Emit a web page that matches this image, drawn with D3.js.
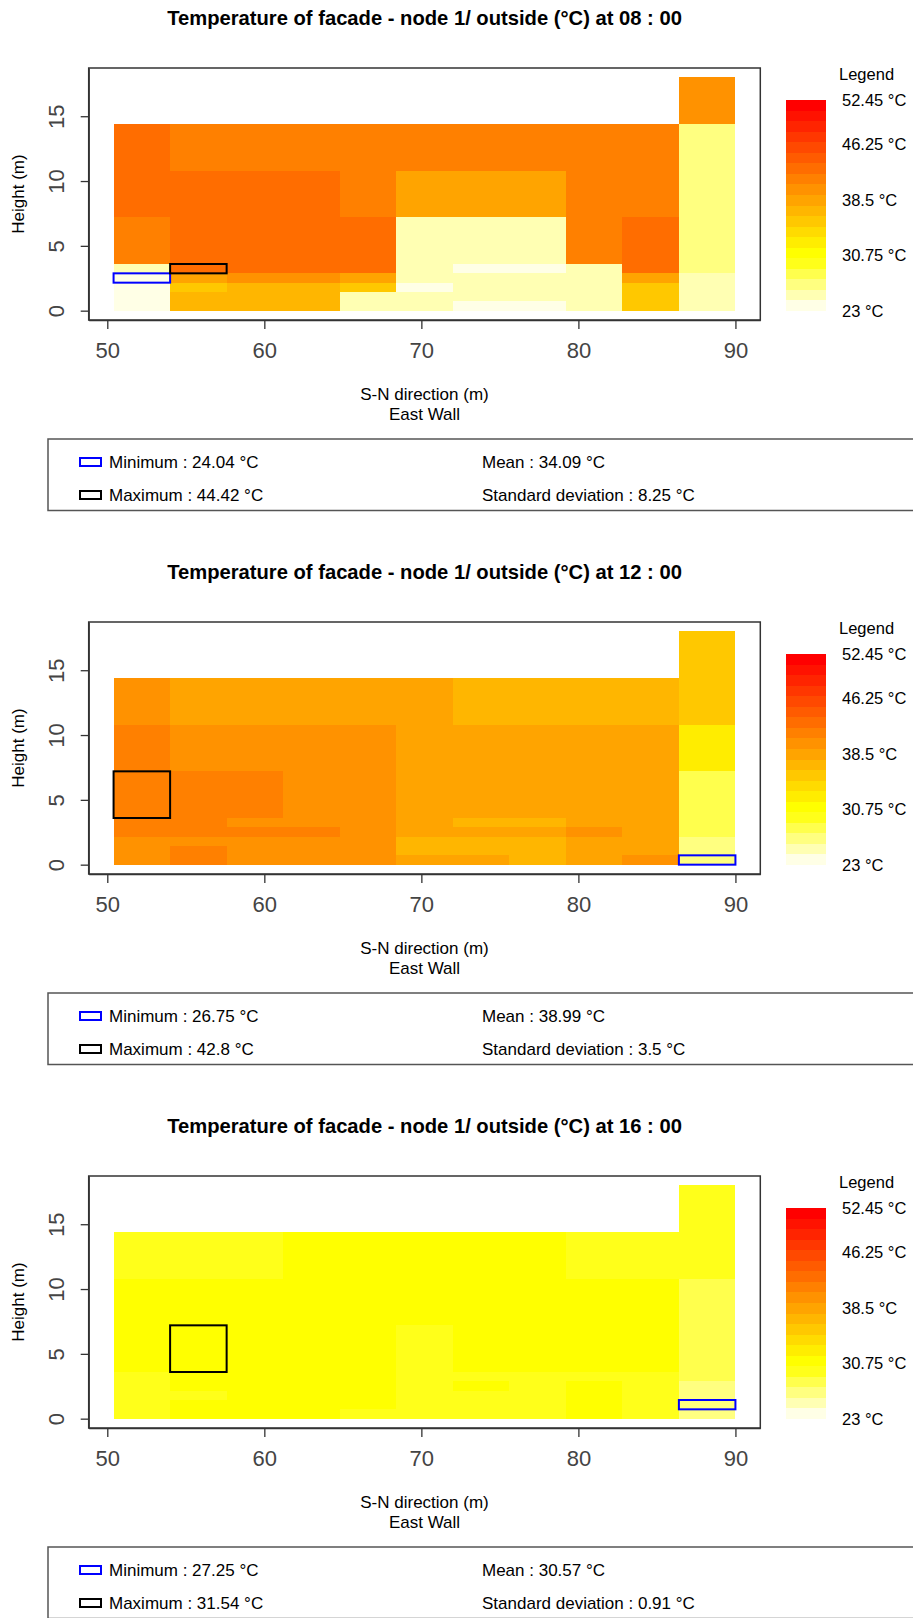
<!DOCTYPE html>
<html>
<head>
<meta charset="utf-8">
<script src="https://cdn.jsdelivr.net/npm/d3@7"></script>
<style>
  body { margin: 0; background: #fff; }
  svg { display: block; font-family: "Liberation Sans", Arial, sans-serif; }
</style>
</head>
<body>
<svg id="chart" width="913" height="1618"></svg>
<script>
// facade grid: cell edges along the wall and up the wall (m)
var xEdges = [50.4, 54, 57.6, 61.2, 64.8, 68.4, 72, 75.6, 79.2, 82.8, 86.4, 90];
var yEdges = [0, 0.72, 1.44, 2.16, 2.88, 3.6, 7.2, 10.8, 14.4, 18];

var xTicks = [50, 60, 70, 80, 90];
var yTicks = [0, 5, 10, 15];
var legendLabels = [23, 30.75, 38.5, 46.25, 52.45];
var colorRange = [23, 54];

var hours = ["08 : 00", "12 : 00", "16 : 00"];
var meanTemps = [34.09, 38.99, 30.57];
var sdTemps = [8.25, 3.5, 0.91];

// temperatures (°C): one row per height band from the ground up,
// one value per column between xEdges (null = no facade there)
var temps08 = [
  [24.3, 37.6, 37.8, 37.5, 25.4, 25.2, 24.4, 24.3, 25.3, 36.1, 25.5],
  [24.2, 37.7, 37.6, 37.4, 25.3, 25.1, 25.0, 25.2, 25.4, 36.3, 25.6],
  [24.4, 36.4, 37.3, 37.2, 36.5, 24.4, 25.3, 25.1, 25.2, 36.2, 25.7],
  [24.04, 39.1, 40.3, 40.5, 39.2, 25.2, 25.4, 25.3, 25.1, 39.0, 25.8],
  [25.6, 44.42, 44.1, 43.8, 43.6, 25.0, 24.4, 24.4, 25.5, 43.7, 27.0],
  [42.5, 44.2, 44.0, 43.7, 43.5, 25.3, 25.1, 25.2, 42.3, 43.9, 27.2],
  [43.6, 44.0, 43.8, 43.5, 42.8, 39.4, 39.3, 39.2, 42.5, 42.6, 27.1],
  [43.3, 42.4, 42.3, 42.2, 42.1, 42.3, 42.4, 42.5, 42.6, 42.4, 26.8],
  [null, null, null, null, null, null, null, null, null, null, 40.9]
];

var temps12 = [
  [40.6, 42.2, 40.9, 40.7, 40.5, 39.3, 39.1, 37.9, 39.4, 40.4, 26.75],
  [40.8, 42.3, 41.0, 40.8, 40.6, 37.8, 37.6, 37.7, 39.5, 39.6, 27.2],
  [40.9, 41.2, 41.1, 40.9, 40.7, 37.9, 37.8, 37.6, 39.6, 39.7, 27.4],
  [42.5, 42.6, 42.1, 41.8, 41.4, 39.2, 39.0, 39.1, 40.3, 39.8, 28.6],
  [42.6, 42.4, 41.3, 41.1, 40.9, 39.4, 38.2, 38.1, 39.7, 39.9, 28.8],
  [42.8, 42.5, 41.9, 41.5, 41.2, 39.6, 39.5, 39.4, 39.8, 39.7, 28.9],
  [42.3, 41.3, 41.1, 40.9, 40.8, 39.8, 39.6, 39.5, 39.4, 39.3, 33.2],
  [40.9, 39.6, 39.7, 39.8, 39.9, 39.5, 38.2, 38.1, 38.3, 38.0, 36.3],
  [null, null, null, null, null, null, null, null, null, null, 36.1]
];

var temps16 = [
  [30.2, 31.1, 31.2, 31.0, 30.4, 30.1, 30.3, 30.2, 31.0, 30.4, 27.5],
  [30.3, 31.2, 31.3, 31.1, 30.9, 30.2, 30.4, 30.3, 31.1, 30.5, 27.25],
  [30.4, 30.6, 31.3, 31.2, 31.0, 30.3, 30.5, 30.4, 31.0, 30.5, 27.6],
  [30.5, 31.0, 31.3, 31.2, 31.1, 30.4, 30.9, 30.6, 30.9, 30.6, 27.6],
  [30.6, 31.3, 31.4, 31.3, 31.2, 30.5, 30.7, 30.6, 30.7, 30.6, 28.7],
  [30.9, 31.54, 31.4, 31.3, 31.2, 30.6, 31.0, 31.1, 31.0, 30.9, 28.8],
  [31.0, 31.2, 31.3, 31.3, 31.2, 31.1, 31.2, 31.1, 31.0, 30.9, 28.6],
  [30.6, 30.7, 30.6, 30.9, 31.0, 31.0, 30.9, 30.8, 30.6, 30.5, 30.2],
  [null, null, null, null, null, null, null, null, null, null, 30.4]
];

var allTemps = [temps08, temps12, temps16];

// R's heat.colors(20), coldest first
var heatColors = ["#FFFFE6", "#FFFFB3", "#FFFF80", "#FFFF4D", "#FFFF1A",
  "#FFFF00", "#FFED00", "#FFDB00", "#FFC800", "#FFB600", "#FFA400",
  "#FF9200", "#FF8000", "#FF6D00", "#FF5B00", "#FF4900", "#FF3700",
  "#FF2400", "#FF1200", "#FF0000"];

var panelStep = 554;
var plotLeft = 88.7, plotRight = 760.3, plotTop = 68, plotBottom = 320;

function padRange(ext) {
  // same 4% stretch R gives its axes
  var d = (ext[1] - ext[0]) * 0.04;
  return [ext[0] - d, ext[1] + d];
}

var x = d3.scaleLinear()
    .domain(padRange(d3.extent(xEdges)))
    .range([plotLeft, plotRight]);

var y = d3.scaleLinear()
    .domain(padRange(d3.extent(yEdges)))
    .range([plotBottom, plotTop]);

var color = d3.scaleQuantize()
    .domain(colorRange)
    .range(heatColors);

// colour bar and its labels
var barY = d3.scaleLinear().domain(colorRange).range([311, 100]);
var labelY = d3.scaleLinear().domain(d3.extent(legendLabels)).range([311, 100]);

function toCells(temps) {
  var cells = [];
  temps.forEach(function(row, r) {
    row.forEach(function(t, c) {
      if (t != null) cells.push({ r: r, c: c, t: t });
    });
  });
  return cells;
}

function cellRect(sel) {
  sel.attr("x", function(d) { return x(xEdges[d.c]); })
      .attr("y", function(d) { return y(yEdges[d.r + 1]); })
      .attr("width", function(d) { return x(xEdges[d.c + 1]) - x(xEdges[d.c]); })
      .attr("height", function(d) { return y(yEdges[d.r]) - y(yEdges[d.r + 1]); });
}

function drawPanel(svg, k) {
  var g = svg.append("g")
      .attr("transform", "translate(0," + (k * panelStep) + ")");
  var cells = toCells(allTemps[k]);
  var minCell = cells[d3.minIndex(cells, function(d) { return d.t; })];
  var maxCell = cells[d3.maxIndex(cells, function(d) { return d.t; })];

  g.append("text")
      .attr("x", (plotLeft + plotRight) / 2)
      .attr("y", 25)
      .attr("text-anchor", "middle")
      .attr("font-size", 20.2)
      .attr("font-weight", "bold")
      .text("Temperature of facade - node 1/ outside (°C) at " + hours[k]);

  g.append("g")
    .selectAll("rect")
      .data(cells)
    .enter().append("rect")
      .call(cellRect)
      .attr("fill", function(d) { return color(d.t); })
      .attr("shape-rendering", "crispEdges");

  g.append("rect").datum(minCell).call(cellRect)
      .attr("fill", "none").attr("stroke", "#0000FF").attr("stroke-width", 2);
  g.append("rect").datum(maxCell).call(cellRect)
      .attr("fill", "none").attr("stroke", "#000").attr("stroke-width", 2);

  g.append("rect")
      .attr("x", plotLeft).attr("y", plotTop)
      .attr("width", plotRight - plotLeft).attr("height", plotBottom - plotTop)
      .attr("fill", "none").attr("stroke", "#333").attr("stroke-width", 1.5);

  // axes
  var xAxis = g.append("g")
      .attr("transform", "translate(0," + plotBottom + ")")
      .call(d3.axisBottom(x).tickValues(xTicks).tickSize(9).tickSizeOuter(0)
            .tickPadding(13).tickFormat(d3.format("d")));
  var yAxis = g.append("g")
      .attr("transform", "translate(" + plotLeft + ",0)")
      .call(d3.axisLeft(y).tickValues(yTicks).tickSize(8).tickSizeOuter(0));
  yAxis.selectAll(".tick text")
      .attr("x", 0).attr("y", 0)
      .attr("dy", "0.35em")
      .attr("text-anchor", "middle")
      .attr("transform", "translate(-32,0) rotate(-90)");
  [xAxis, yAxis].forEach(function(a) {
    a.attr("font-size", 22).attr("font-family", null);
    a.selectAll("text").attr("fill", "#444");
    a.selectAll("line, path").attr("stroke", "#333").attr("stroke-width", 1.3);
  });

  g.append("text")
      .attr("transform", "translate(18," + ((plotTop + plotBottom) / 2) + ") rotate(-90)")
      .attr("text-anchor", "middle")
      .attr("dy", "0.35em")
      .attr("font-size", 17)
      .text("Height (m)");
  g.append("text")
      .attr("x", (plotLeft + plotRight) / 2).attr("y", 400)
      .attr("text-anchor", "middle").attr("font-size", 17)
      .text("S-N direction (m)");
  g.append("text")
      .attr("x", (plotLeft + plotRight) / 2).attr("y", 419.5)
      .attr("text-anchor", "middle").attr("font-size", 17)
      .text("East Wall");

  // colour legend
  var bands = heatColors.map(function(c) { return color.invertExtent(c); });
  g.append("text")
      .attr("x", 839).attr("y", 80)
      .attr("font-size", 16.5)
      .text("Legend");
  g.append("g")
    .selectAll("rect")
      .data(bands)
    .enter().append("rect")
      .attr("x", 786)
      .attr("width", 40)
      .attr("y", function(d) { return barY(d[1]); })
      .attr("height", function(d) { return barY(d[0]) - barY(d[1]); })
      .attr("fill", function(d) { return color((d[0] + d[1]) / 2); })
      .attr("shape-rendering", "crispEdges");
  g.append("g")
    .selectAll("text")
      .data(legendLabels)
    .enter().append("text")
      .attr("x", 842)
      .attr("y", function(d) { return labelY(d); })
      .attr("dy", "0.35em")
      .attr("font-size", 16.5)
      .text(function(d) { return d + " °C"; });

  // summary box
  g.append("rect")
      .attr("x", 48).attr("y", 439)
      .attr("width", 1000).attr("height", 71.5)
      .attr("fill", "none").attr("stroke", "#555").attr("stroke-width", 1.5);
  var stats = [
    { key: "Minimum", value: minCell.t, col: 0, row: 0, box: "#0000FF" },
    { key: "Maximum", value: maxCell.t, col: 0, row: 1, box: "#000" },
    { key: "Mean", value: meanTemps[k], col: 1, row: 0 },
    { key: "Standard deviation", value: sdTemps[k], col: 1, row: 1 }
  ];
  stats.forEach(function(s) {
    var cy = 462 + s.row * 33;
    if (s.box) {
      g.append("rect")
          .attr("x", 80).attr("y", cy - 4)
          .attr("width", 21).attr("height", 8)
          .attr("fill", "#fff").attr("stroke", s.box).attr("stroke-width", 2);
    }
    g.append("text")
        .attr("x", s.col ? 482 : 109)
        .attr("y", cy)
        .attr("dy", "0.35em")
        .attr("font-size", 17)
        .text(s.key + " : " + s.value + " °C");
  });
}

var svg = d3.select("#chart");
hours.forEach(function(h, k) { drawPanel(svg, k); });
</script>
</body>
</html>
